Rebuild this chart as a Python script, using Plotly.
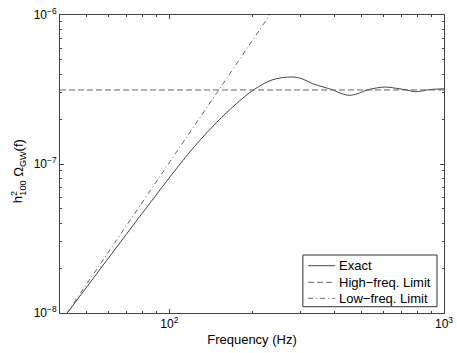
import plotly.graph_objects as go

# exact spectrum
freq_exact = [42.5, 106.4, 125.9, 148.8, 176.1, 202.4, 236.2, 280.0, 304.5, 331.1,
              363.2, 395.0, 422.5, 451.8, 487.2, 524.1, 566.7, 613.7, 670.1, 733.2,
              786.2, 891.4, 1000]
omega_exact = [1.0e-8, 9.36e-8, 1.365e-7, 1.905e-7, 2.555e-7, 3.137e-7, 3.663e-7, 3.837e-7,
               3.73e-7, 3.47e-7, 3.287e-7, 3.137e-7, 2.972e-7, 2.891e-7, 2.972e-7, 3.137e-7,
               3.236e-7, 3.287e-7, 3.22e-7, 3.137e-7, 3.056e-7, 3.162e-7, 3.197e-7]

# high frequency limit (flat)
freq_high = [40, 1000]
omega_high = [3.14e-7, 3.14e-7]

# low frequency limit (power law)
freq_low = [42.4, 232]
omega_low = [1.0e-8, 1.0e-6]

x_major = [100, 1000]
x_major_text = ['10<sup>2</sup>', '10<sup>3</sup>']
x_minor = [50, 60, 70, 80, 90, 200, 300, 400, 500, 600, 700, 800, 900]
y_major = [1e-8, 1e-7, 1e-6]
y_major_text = ['10<sup>−8</sup>', '10<sup>−7</sup>', '10<sup>−6</sup>']
y_minor = [2e-8, 3e-8, 4e-8, 5e-8, 6e-8, 7e-8, 8e-8, 9e-8,
           2e-7, 3e-7, 4e-7, 5e-7, 6e-7, 7e-7, 8e-7, 9e-7]

names = ['Exact', 'High−freq. Limit', 'Low−freq. Limit']
colors = ['#444', '#666', '#666']
dashes = ['solid', '6px,3px', '5px,3px,1px,3px']

fig = go.Figure()
series = [(freq_exact, omega_exact), (freq_high, omega_high), (freq_low, omega_low)]
for (fx, fy), nm, c, d in zip(series, names, colors, dashes):
    ln = dict(color=c, width=1, dash=d)
    if nm == 'Exact':
        ln.update(shape='spline', smoothing=1)
    fig.add_trace(go.Scatter(x=fx, y=fy, mode='lines', name=nm, line=ln, showlegend=False))

# legend drawn by hand, MATLAB style (tight rows)
fig.add_shape(type='rect', xref='paper', yref='paper', x0=0.6325, x1=0.9818, y0=0.0211, y1=0.1946,
              line=dict(color='#333', width=1), fillcolor='white', layer='above')
rows_y = [0.1587, 0.103, 0.0493]
for ry, nm, c, d in zip(rows_y, names, colors, dashes):
    fig.add_shape(type='line', xref='paper', yref='paper', x0=0.6463, x1=0.7167, y0=ry, y1=ry,
                  line=dict(color=c, width=1, dash=d), layer='above')
    fig.add_annotation(xref='paper', yref='paper', x=0.7219, y=ry, text=nm, showarrow=False,
                       xanchor='left', yanchor='middle', font=dict(size=13, color='black'))

# y label in two pieces so the 2 and the 100 sit on top of each other
ylab_font = dict(size=13, color='black')
fig.add_annotation(xref='paper', yref='paper', x=-0.113, y=0.387, text='h<sup>2</sup>',
                   textangle=-90, showarrow=False, xanchor='center', yanchor='middle',
                   font=ylab_font)
fig.add_annotation(xref='paper', yref='paper', x=-0.104, y=0.488,
                   text='<sub>100</sub> Ω<sub>GW</sub>(f)',
                   textangle=-90, showarrow=False, xanchor='center', yanchor='middle',
                   font=ylab_font)

axis_style = dict(type='log', showline=True, linecolor='#444', linewidth=1, mirror='ticks',
                  ticks='inside', ticklen=4, tickcolor='#444', showgrid=False, zeroline=False,
                  automargin=False, ticklabeloverflow='allow',
                  tickfont=dict(size=12, color='black'))

fig.update_xaxes(axis_style, range=[1.602, 3], tickmode='array', tickvals=x_major,
                 ticktext=x_major_text,
                 minor=dict(tickmode='array', tickvals=x_minor, ticks='inside', ticklen=2,
                            tickcolor='#444'),
                 title=dict(text='Frequency (Hz)', font=dict(size=13, color='black'), standoff=4))
fig.update_yaxes(axis_style, range=[-8, -6], tickmode='array', tickvals=y_major,
                 ticktext=y_major_text,
                 minor=dict(tickmode='array', tickvals=y_minor, ticks='inside', ticklen=2,
                            tickcolor='#444'))

fig.update_layout(width=457, height=353, margin=dict(l=60, r=13, t=15, b=40),
                  plot_bgcolor='white', paper_bgcolor='white', showlegend=False,
                  font=dict(family='Liberation Sans, Arial, sans-serif', size=12, color='black'))

# drop the page's default body margin so the figure sits at the window corner
fig.write_html("out.html", config={'displayModeBar': False},
               post_script="document.body.style.margin='0px';")
